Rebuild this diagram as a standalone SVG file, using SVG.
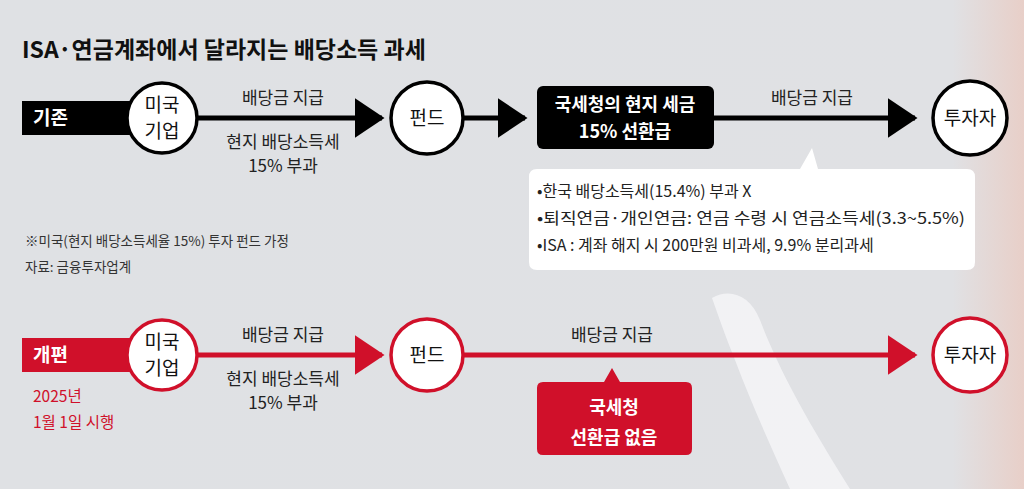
<svg xmlns="http://www.w3.org/2000/svg" width="1024" height="489" viewBox="0 0 1024 489">
<defs>
<linearGradient id="bg" x1="0" y1="0" x2="1" y2="0">
<stop offset="0" stop-color="#dfe1e4"/><stop offset="0.93" stop-color="#e0e1e4"/><stop offset="1" stop-color="#e8cfc8"/>
</linearGradient>
<marker id="ab" markerWidth="6" markerHeight="8" refX="5.5" refY="4" orient="auto" markerUnits="strokeWidth"><path d="M0,0L6,4L0,8z" fill="#000"/></marker>
<marker id="ar" markerWidth="6" markerHeight="8" refX="5.5" refY="4" orient="auto" markerUnits="strokeWidth"><path d="M0,0L6,4L0,8z" fill="#d0102a"/></marker>
</defs>
<style>
text{font-family:"Noto Sans CJK KR","Noto Sans",sans-serif}
.c{fill:#fff;stroke-width:3.5}
.k{stroke:#000}.r{stroke:#d0102a}
.n{font-size:19px;text-anchor:middle;fill:#111}
.l{font-size:17px;text-anchor:middle;fill:#222}
.b{font-size:16px;fill:#222}
.s{font-size:13.5px;fill:#333}
.w{font-size:18px;font-weight:bold;fill:#fff;text-anchor:middle}
</style>
<rect width="1024" height="489" fill="url(#bg)"/>
<path d="M712,298 C730,288 750,295 760,320 C785,385 820,440 850,489 L790,489 C770,445 750,400 735,360 C725,335 718,315 712,298z" fill="#f4f5f7" opacity="0.85"/>
<text x="22" y="58" font-size="23" font-weight="bold" fill="#111">ISA·연금계좌에서 달라지는 배당소득 과세</text>
<g id="connectors">
<line x1="197" y1="118" x2="382" y2="118" stroke="#000" stroke-width="5" marker-end="url(#ab)"/>
<line x1="463" y1="118" x2="525" y2="118" stroke="#000" stroke-width="5" marker-end="url(#ab)"/>
<line x1="714" y1="118" x2="915" y2="118" stroke="#000" stroke-width="5" marker-end="url(#ab)"/>
<line x1="197" y1="355" x2="382" y2="355" stroke="#d0102a" stroke-width="5" marker-end="url(#ar)"/>
<line x1="463" y1="355" x2="915" y2="355" stroke="#d0102a" stroke-width="5" marker-end="url(#ar)"/>
<text class="l" x="283" y="104">배당금 지급</text>
<text class="l" x="283" y="148">현지 배당소득세</text>
<text class="l" x="283" y="172">15% 부과</text>
<text class="l" x="812" y="104">배당금 지급</text>
<text class="l" x="283" y="341">배당금 지급</text>
<text class="l" x="283" y="385">현지 배당소득세</text>
<text class="l" x="283" y="409">15% 부과</text>
<text class="l" x="612" y="341">배당금 지급</text>
</g>
<g id="label-old"><rect x="22" y="101" width="130" height="34" fill="#000"/><text x="33" y="125" font-size="19" font-weight="bold" fill="#fff">기존</text></g>
<g id="label-new"><rect x="22" y="338" width="130" height="34" fill="#d0102a"/><text x="33" y="362" font-size="19" font-weight="bold" fill="#fff">개편</text>
<text x="33" y="402" font-size="15.5" fill="#d0102a">2025년</text><text x="33" y="428" font-size="15.5" fill="#d0102a">1월 1일 시행</text></g>
<g id="us1"><circle class="c k" cx="162" cy="118" r="35"/><text class="n" x="162" y="112">미국</text><text class="n" x="162" y="138">기업</text></g>
<g id="fund1"><circle class="c k" cx="427" cy="118" r="36"/><text class="n" x="427" y="125">펀드</text></g>
<g id="nts1"><rect x="537" y="86" width="177" height="63" rx="6" fill="#000"/><text class="w" x="625" y="111">국세청의 현지 세금</text><text class="w" x="625" y="138">15% 선환급</text></g>
<g id="inv1"><circle class="c k" cx="970" cy="118" r="37"/><text class="n" x="970" y="125">투자자</text></g>
<g id="callout"><path d="M537,169 L800,169 L812,148 L818,169 L967,169 Q975,169 975,177 L975,262 Q975,270 967,270 L537,270 Q529,270 529,262 L529,177 Q529,169 537,169z" fill="#fff"/>
<text class="b" x="537" y="197">•한국 배당소득세(15.4%) 부과 X</text>
<text class="b" x="537" y="224" textLength="428" lengthAdjust="spacingAndGlyphs">•퇴직연금·개인연금: 연금 수령 시 연금소득세(3.3~5.5%)</text>
<text class="b" x="537" y="251">•ISA : 계좌 해지 시 200만원 비과세, 9.9% 분리과세</text></g>
<g id="notes"><text class="s" x="25" y="246">※미국(현지 배당소득세율 15%) 투자 펀드 가정</text><text class="s" x="25" y="272">자료: 금융투자업계</text></g>
<g id="us2"><circle class="c r" cx="162" cy="355" r="35"/><text class="n" x="162" y="349">미국</text><text class="n" x="162" y="375">기업</text></g>
<g id="fund2"><circle class="c r" cx="427" cy="355" r="36"/><text class="n" x="427" y="362">펀드</text></g>
<g id="nts2"><path d="M543,382 L604,382 L612,368 L620,382 L686,382 Q692,382 692,388 L692,449 Q692,455 686,455 L543,455 Q537,455 537,449 L537,388 Q537,382 543,382z" fill="#d0102a"/><text class="w" x="614" y="414" font-size="20">국세청</text><text class="w" x="614" y="444" font-size="20">선환급 없음</text></g>
<g id="inv2"><circle class="c r" cx="970" cy="355" r="37"/><text class="n" x="970" y="362">투자자</text></g>
</svg>
